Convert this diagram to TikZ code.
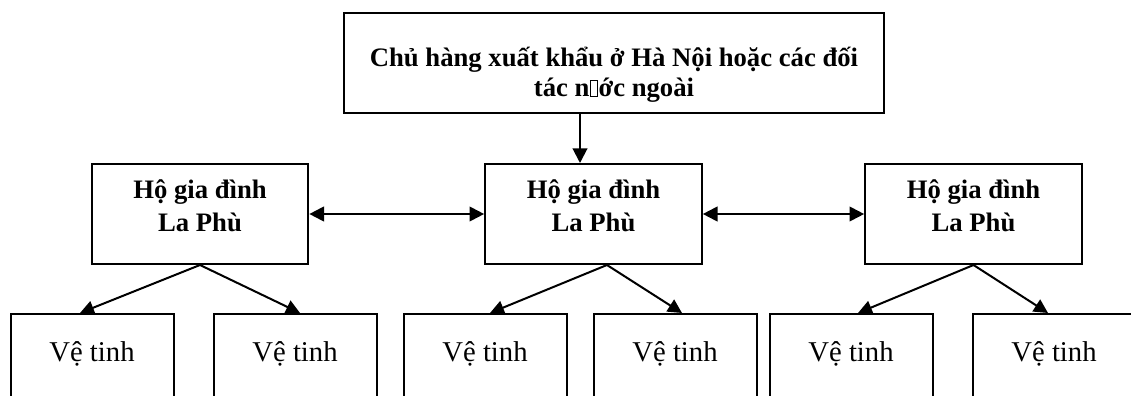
\documentclass[tikz,border=0pt]{standalone}
\usepackage{fontspec}
\setmainfont{Liberation Serif}
\usetikzlibrary{arrows.meta}
\newcommand\missbox{{\setlength\fboxsep{0pt}\setlength\fboxrule{0.6pt}\kern0.3pt\fbox{\rule{0pt}{11.5pt}\rule{5pt}{0pt}}\kern0.3pt}}
\tikzset{
  box/.style={draw, line width=1.5pt, rectangle, inner xsep=0pt, inner ysep=0pt, anchor=north, align=center},
  topbox/.style={box, minimum width=405pt, text height=39.75pt, text depth=35.25pt, font=\bfseries\fontsize{20}{22.5}\selectfont},
  hobox/.style={box, minimum width=162.5pt, text height=25.5pt, text depth=49.5pt, font=\bfseries\fontsize{20}{25}\selectfont},
  vebox/.style={box, minimum width=122.25pt, text height=35.25pt, text depth=37.5pt, font=\fontsize{21.5}{24}\selectfont},
  arr/.style={line width=1.5pt, -{Triangle[length=11pt,width=11pt]}},
  darr/.style={line width=1.5pt, {Triangle[length=11pt,width=11pt]}-{Triangle[length=11pt,width=11pt]}},
  sarr/.style={line width=1.5pt, -{Triangle[length=10.5pt,width=10.5pt]}}
}
\begin{document}
\begin{tikzpicture}[x=0.75pt, y=-0.75pt]
\useasboundingbox (0,0) rectangle (1131,396);
\clip (0,0) rectangle (1131,396);
\node[topbox] (top) at (614,12) {\begin{tabular}[t]{@{}c@{}}Chủ hàng xuất khẩu ở Hà Nội hoặc các đối\\tác n\missbox ớc ngoài\end{tabular}};
\node[hobox] (h1) at (200,163) {\begin{tabular}[t]{@{}c@{}}Hộ gia đình\\La Phù\end{tabular}};
\node[hobox] (h2) at (593.5,163) {\begin{tabular}[t]{@{}c@{}}Hộ gia đình\\La Phù\end{tabular}};
\node[hobox] (h3) at (973.5,163) {\begin{tabular}[t]{@{}c@{}}Hộ gia đình\\La Phù\end{tabular}};
\node[vebox] (v1) at (92,313) {Vệ tinh};
\node[vebox] (v2) at (295,313) {Vệ tinh};
\node[vebox] (v3) at (485,313) {Vệ tinh};
\node[vebox] (v4) at (675,313) {Vệ tinh};
\node[vebox] (v5) at (851,313) {Vệ tinh};
\node[vebox] (v6) at (1054,313) {Vệ tinh};
\draw[arr] ([xshift=-25.5pt]top.south) -- ([xshift=-25.5pt]top.south |- h2.north);
\draw[darr] (h1) -- (h2);
\draw[darr] (h2) -- (h3);
\draw[sarr] (h1.south) -- ([xshift=-9pt]v1.north);
\draw[sarr] (h1.south) -- ([xshift=3.75pt]v2.north);
\draw[sarr] ([xshift=10.1pt]h2.south) -- ([xshift=3.75pt]v3.north);
\draw[sarr] ([xshift=10.1pt]h2.south) -- ([xshift=5.25pt]v4.north);
\draw[sarr] (h3.south) -- ([xshift=5.25pt]v5.north);
\draw[sarr] (h3.south) -- ([xshift=-4.5pt]v6.north);
\end{tikzpicture}
\end{document}
